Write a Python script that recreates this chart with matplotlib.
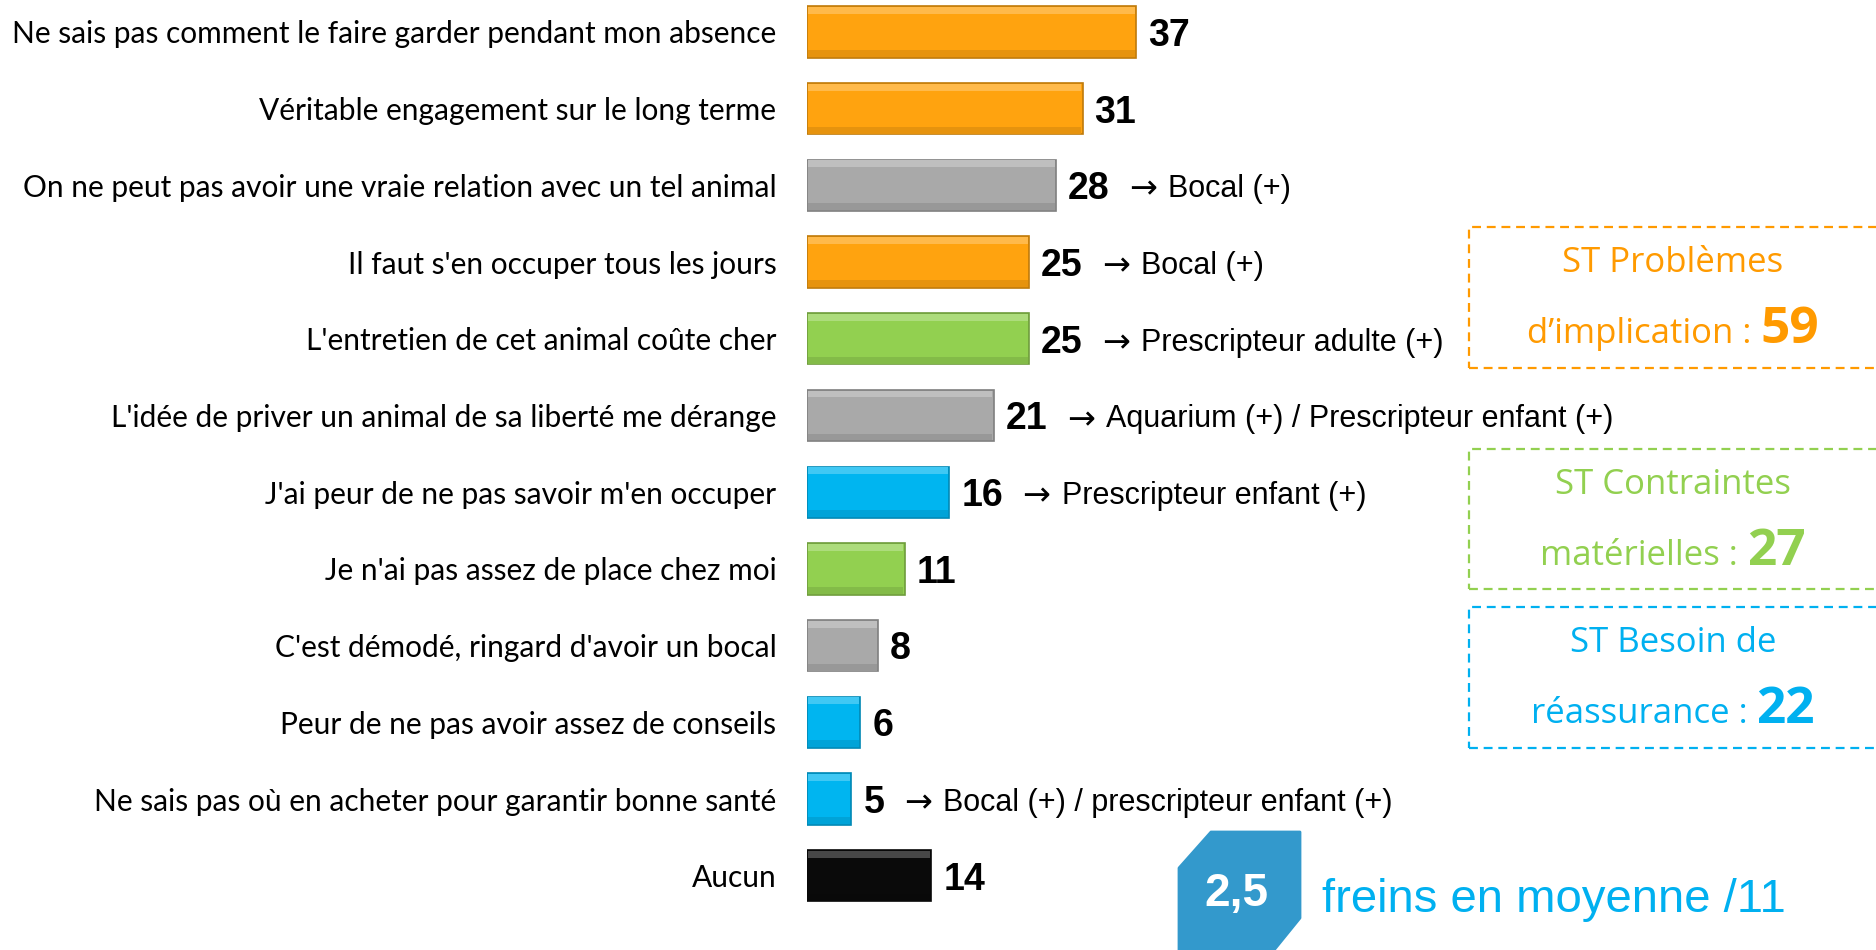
import matplotlib
matplotlib.use("Agg")
import matplotlib.pyplot as plt
from matplotlib.patches import Rectangle, Polygon
from matplotlib.offsetbox import TextArea, HPacker, AnnotationBbox
from matplotlib.colors import to_rgb
import numpy as np

# DONNEES
labels = [
    "Ne sais pas comment le faire garder pendant mon absence",
    "Véritable engagement sur le long terme",
    "On ne peut pas avoir une vraie relation avec un tel animal",
    "Il faut s'en occuper tous les jours",
    "L'entretien de cet animal coûte cher",
    "L'idée de priver un animal de sa liberté me dérange",
    "J'ai peur de ne pas savoir m'en occuper",
    "Je n'ai pas assez de place chez moi",
    "C'est démodé, ringard d'avoir un bocal",
    "Peur de ne pas avoir assez de conseils",
    "Ne sais pas où en acheter pour garantir bonne santé",
    "Aucun",
]
values = [37, 31, 28, 25, 25, 21, 16, 11, 8, 6, 5, 14]
groups = ["impl", "impl", "autre", "impl", "mat", "autre", "reas", "mat",
          "autre", "reas", "reas", "aucun"]
notes = ["", "", "Bocal (+)", "Bocal (+)", "Prescripteur adulte (+)",
         "Aquarium (+) / Prescripteur enfant (+)", "Prescripteur enfant (+)",
         "", "", "", "Bocal (+) / prescripteur enfant (+)", ""]

st_line1 = ["ST Problèmes", "ST Contraintes", "ST Besoin de"]
st_line2 = ["d’implication : ", "matérielles : ", "réassurance : "]
st_values = [59, 27, 22]
st_groups = ["impl", "mat", "reas"]

moyenne = "2,5"
moyenne_txt = "freins en moyenne /11"

couleurs = {"impl": "#FFA30F", "autre": "#A9A9A9", "mat": "#92D050",
            "reas": "#00B5F0", "aucun": "#0A0A0A"}
couleurs_txt = {"impl": "#FF9A00", "mat": "#92D050", "reas": "#00B0F0"}

# FIGURE (pixels)
W, H = 1876, 950
X0 = 807          # debut des barres
PXU = 8.89        # pixels par unite
Y0, PITCH = 32, 76.7

fig = plt.figure(figsize=(W / 100, H / 100), dpi=100)
fig.patch.set_facecolor("white")
ax = fig.add_axes([X0 / W, 0, (W - X0) / W, 1])
ax.set_xlim(0, (W - X0) / PXU)
ax.set_ylim((H - Y0) / PITCH, -Y0 / PITCH)
for s in ax.spines.values():
    s.set_visible(False)
ax.xaxis.set_visible(False)

y = np.arange(len(values))
vals = np.array(values)
cols = [couleurs[g] for g in groups]


def mix(c, other, t):
    c = np.array(to_rgb(c))
    return tuple(c * (1 - t) + np.array(other) * t)


h = 0.67
hb = 0.09
ax.barh(y, vals, height=h, color=cols,
        edgecolor=[mix(c, (0, 0, 0), 0.25) for c in cols], linewidth=1.2)
# effet biseau
ax.barh(y - h / 2 + hb / 2 + 0.01, vals - 0.3, left=0.15, height=hb,
        color=[mix(c, (1, 1, 1), 0.25) for c in cols], linewidth=0)
ax.barh(y + h / 2 - hb / 2 - 0.01, vals - 0.3, left=0.15, height=hb,
        color=[mix(c, (0, 0, 0), 0.1) for c in cols], linewidth=0)

ax.set_yticks(y)
ax.set_yticklabels(labels, fontsize=21.5, family="Lato")
ax.tick_params(axis="y", length=0, pad=22)

for yi, v, note in zip(y, vals, notes):
    t = ax.text(v + 12 / PXU, yi + 0.05, str(v), fontsize=27, fontweight="bold",
                family="Liberation Sans", va="center", ha="left")
    if note:
        a = ax.annotate("→", xy=(1, 0.5), xycoords=t, xytext=(14, 0),
                        textcoords="offset points", va="center", ha="left",
                        fontsize=24, family="DejaVu Sans")
        ax.annotate(note, xy=(1, 0.5), xycoords=a, xytext=(8, 0),
                    textcoords="offset points", va="center", ha="left",
                    fontsize=22, family="Liberation Sans")


def fx(px):
    return px / W


def fy(py):
    return 1 - py / H


# ENCADRES
boxes = [(227, 368), (449, 589), (607, 748)]
for (top, bot), l1, l2, v, g in zip(boxes, st_line1, st_line2, st_values, st_groups):
    c = couleurs_txt[g]
    fig.add_artist(Rectangle((fx(1469), fy(bot)), fx(1900 - 1469), (bot - top) / H,
                             transform=fig.transFigure, fill=False, edgecolor=c,
                             linewidth=1.6, linestyle=(0, (4, 2.6))))
    fig.text(fx(1673), fy(top + 36), l1, color=c, fontsize=25,
             family="Open Sans", ha="center", va="center")
    pack = HPacker(children=[
        TextArea(l2, textprops=dict(color=c, fontsize=25, family="Open Sans")),
        TextArea(str(v), textprops=dict(color=c, fontsize=37, family="Open Sans",
                                         fontweight="bold"))],
        align="baseline", pad=0, sep=0)
    ab = AnnotationBbox(pack, (fx(1673), fy(top + 103)), xycoords="figure fraction",
                        frameon=False, box_alignment=(0.5, 0.5))
    fig.add_artist(ab)

# PASTILLE MOYENNE
badge = [(1179, 868), (1211, 832), (1300, 832), (1300, 918),
         (1270, 955), (1179, 955)]
fig.add_artist(Polygon([(fx(a), fy(b)) for a, b in badge], closed=True,
                       transform=fig.transFigure, facecolor="#3399CC",
                       edgecolor="#3399CC", linewidth=2, joinstyle="round"))
fig.text(fx(1236), fy(894), moyenne, color="white", fontsize=33,
         fontweight="bold", family="Liberation Sans", ha="center", va="center")
fig.text(fx(1322), fy(900), moyenne_txt, color="#00B0F0", fontsize=34,
         family="Liberation Sans", ha="left", va="center")

plt.savefig("out.png", dpi=100, facecolor="white")
